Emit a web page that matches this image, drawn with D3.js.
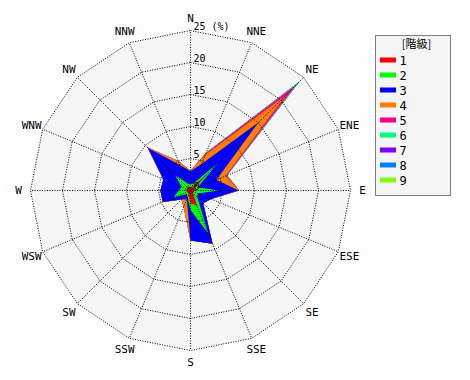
<!DOCTYPE html>
<html>
<head>
<meta charset="utf-8">
<script src="https://cdn.jsdelivr.net/npm/d3@7"></script>
<style>
body { margin: 0; background: #fff; }
text { font-family: "DejaVu Sans Mono", monospace; fill: #000; }
</style>
</head>
<body>
<svg id="rose"></svg>
<script>
// 16 directions, clockwise from N
const directions = ['N', 'NNE', 'NE', 'ENE', 'E', 'ESE', 'SE', 'SSE', 'S', 'SSW', 'SW', 'WSW', 'W', 'WNW', 'NW', 'NNW'];
const classes = ['1', '2', '3', '4', '5', '6', '7', '8', '9'];
const classColors = ['#ff0000', '#00ff00', '#0000ff', '#ff8000', '#ff0080', '#00ff80', '#8000ff', '#0080ff', '#80ff00'];
const ringTicks = [5, 10, 15, 20, 25];

// frequency (%) per class, by direction
const class1 = [0.3, 0.6, 3.7, 0.6, 1.0, 0.5, 0.6, 2.6, 2.0, 0.8, 0.4, 0.5, 0.8, 0.6, 1.0, 0.6];
const class2 = [0.7, 0.6, 2.3, 0.6, 3.5, 0.7, 0.9, 4.7, 1.0, 0.4, 0.4, 2.4, 1.0, 0.9, 2.4, 0.6];
const class3 = [2.0, 3.3, 9.0, 3.2, 3.0, 2.3, 1.3, 1.7, 4.8, 0.3, 1.2, 1.8, 2.9, 3.1, 6.0, 3.1];
const class4 = [0.1, 1.5, 6.0, 1.5, 0.1, 0, 0, 0, 0, 1.3, 0, 0, 0, 0, 0.1, 0.7];
const class5 = [0, 0.3, 2.3, 0.2, 0, 0, 0, 0, 0, 0, 0, 0, 0, 0, 0, 0];
const class6 = [0, 0.1, 0.8, 0.1, 0, 0, 0, 0, 0, 0, 0, 0, 0, 0, 0, 0];
const class7 = [0, 0, 0, 0, 0, 0, 0, 0, 0, 0, 0, 0, 0, 0, 0, 0];
const class8 = [0, 0, 0, 0, 0, 0, 0, 0, 0, 0, 0, 0, 0, 0, 0, 0];
const class9 = [0, 0, 0, 0, 0, 0, 0, 0, 0, 0, 0, 0, 0, 0, 0, 0];
const series = [class1, class2, class3, class4, class5, class6, class7, class8, class9];

const w = 470, h = 380;
const cx = 190.5, cy = 190.5, R = 160;

let svg = d3.select('#rose')
    .attr('width', w)
    .attr('height', h);

let rScale = d3.scaleLinear().domain([0, 25]).range([0, R]);
let angle = i => i * 2 * Math.PI / directions.length;

let g = svg.append('g')
    .attr('transform', 'translate(' + cx + ',' + cy + ')');

// cumulative totals
let cumulative = [];
series.forEach((s, k) => {
    cumulative.push(s.map((v, i) => v + (k > 0 ? cumulative[k - 1][i] : 0)));
});

let ringLine = d3.lineRadial()
    .angle((d, i) => angle(i))
    .radius(d => rScale(d))
    .curve(d3.curveLinearClosed);

//background
g.append('path')
    .attr('d', ringLine(directions.map(() => 25)))
    .attr('fill', '#f5f5f5');

//stacked areas, outermost first
for (let k = cumulative.length - 1; k >= 0; k--) {
    g.append('path')
        .attr('d', ringLine(cumulative[k]))
        .attr('fill', classColors[k]);
}

//rings
let grid = g.append('g')
    .attr('fill', 'none')
    .attr('stroke', '#000')
    .attr('stroke-dasharray', '1,1.5');

ringTicks.forEach(t => {
    grid.append('path')
        .attr('d', ringLine(directions.map(() => t)));
});

//spokes
directions.forEach((d, i) => {
    let a = angle(i);
    grid.append('line')
        .attr('x1', 0).attr('y1', 0)
        .attr('x2', rScale(25) * Math.sin(a))
        .attr('y2', -rScale(25) * Math.cos(a));
});

//ring labels
g.selectAll('.tick')
    .data([0].concat(ringTicks))
    .enter()
    .append('text')
    .attr('x', 3)
    .attr('y', d => -rScale(d) - 1)
    .style('font-size', '10px')
    .text(d => d === 25 ? '25 (%)' : d);

//direction labels
g.selectAll('.dir')
    .data(directions)
    .enter()
    .append('text')
    .attr('x', (d, i) => (R + 12) * Math.sin(angle(i)))
    .attr('y', (d, i) => -(R + 12) * Math.cos(angle(i)))
    .attr('text-anchor', 'middle')
    .attr('dy', '0.35em')
    .style('font-size', '11px')
    .text(d => d);

//legend
let legend = svg.append('g')
    .attr('transform', 'translate(375.5, 35.5)');

legend.append('rect')
    .attr('width', 75)
    .attr('height', 160)
    .attr('fill', '#f5f5f5')
    .attr('stroke', '#000')
    .attr('stroke-dasharray', '1,1');

legend.append('text')
    .attr('x', 41)
    .attr('y', 12)
    .attr('text-anchor', 'middle')
    .style('font-family', '"Noto Sans CJK JP", sans-serif')
    .style('font-size', '11px')
    .text('[階級]');

let items = legend.selectAll('.item')
    .data(classes)
    .enter()
    .append('g')
    .attr('transform', (d, i) => 'translate(0,' + (24.5 + i * 15) + ')');

items.append('rect')
    .attr('x', 4.5)
    .attr('y', -2.5)
    .attr('width', 16)
    .attr('height', 5)
    .attr('fill', (d, i) => classColors[i]);

items.append('text')
    .attr('x', 24)
    .attr('dy', '0.38em')
    .style('font-size', '12px')
    .text(d => d);
</script>
</body>
</html>
